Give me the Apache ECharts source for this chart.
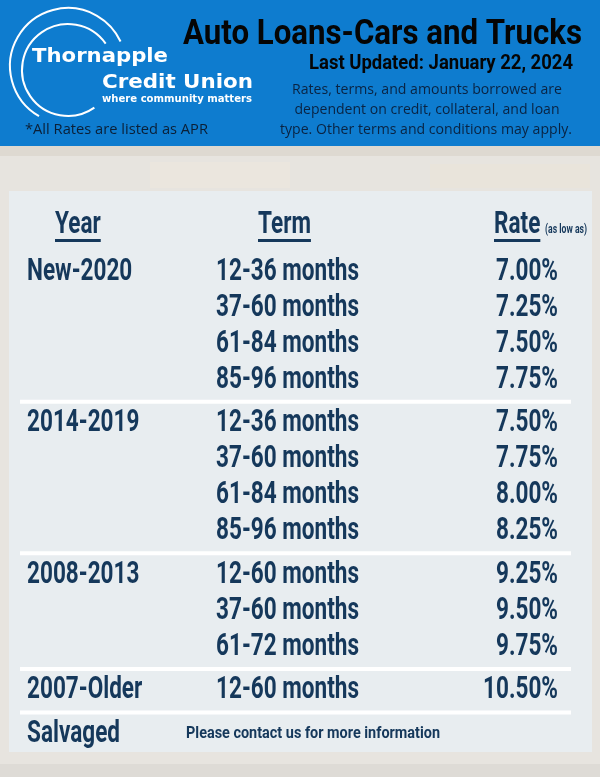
<!DOCTYPE html>
<html><head><meta charset="utf-8">
<script src="https://cdn.jsdelivr.net/npm/echarts@6/dist/echarts.min.js"></script>
<style>html,body{margin:0;padding:0;background:#e5e2dd}#c{width:600px;height:777px}</style>
</head><body><div id="c"></div>
<script>
// ---- data ----
const groupYears = ["New-2020", "2014-2019", "2008-2013", "2007-Older", "Salvaged"];
const groupTerms = [
  ["12-36 months", "37-60 months", "61-84 months", "85-96 months"],
  ["12-36 months", "37-60 months", "61-84 months", "85-96 months"],
  ["12-60 months", "37-60 months", "61-72 months"],
  ["12-60 months"],
  []
];
const groupRates = [
  [7.00, 7.25, 7.50, 7.75],
  [7.50, 7.75, 8.00, 8.25],
  [9.25, 9.50, 9.75],
  [10.50],
  []
];
const salvagedNote = "Please contact us for more information";
const headers = ["Year", "Term", "Rate"];
const rateNote = "(as low as)";
const titleText = "Auto Loans-Cars and Trucks";
const updatedText = "Last Updated: January 22, 2024";
const disclaimer = ["Rates, terms, and amounts borrowed are", "dependent on credit, collateral, and loan", "type. Other terms and conditions may apply."];
const aprNote = "*All Rates are listed as APR";
const logoLines = ["Thornapple", "Credit Union", "where community matters"];

// ---- layout ----
const NAVY = '#15385b';
const GAP = 0.21;
const COL_YEAR = 27, COL_TERM = 216, COL_RATE = 558, COL_NOTE = 186;
const ROW_FONT = 'bold 31px Roboto';

const mctx = document.createElement('canvas').getContext('2d');
function measure(text, font) { mctx.font = font; return mctx.measureText(text).width; }
function fit(text, font, w) { return w / measure(text, font); }
const SX = fit("12-36 months", ROW_FONT, 143);

// build rows
const rows = [];
let gi = 0;
const groupFirst = [], groupLast = [];
groupYears.forEach((yr, g) => {
  const terms = groupTerms[g];
  const n = Math.max(terms.length, 1);
  for (let i = 0; i < n; i++) {
    const u = gi + GAP * g;
    if (i === 0) groupFirst.push(u);
    if (i === n - 1) groupLast.push(u);
    rows.push({
      u: u,
      year: i === 0 ? yr : "",
      term: terms[i] || "",
      rate: groupRates[g][i],
      note: terms.length === 0 ? salvagedNote : ""
    });
    gi++;
  }
});
const seps = [];
for (let g = 0; g < groupYears.length - 1; g++) seps.push((groupLast[g] + groupFirst[g + 1]) / 2);

function txt(x, y, text, font, fill, align, sx) {
  return {
    type: 'text', x: x, y: y, scaleX: sx,
    style: { text: text, font: font, fill: fill, textAlign: align, textVerticalAlign: 'middle', align: align, verticalAlign: 'middle' }
  };
}
function gtxt(x, y, text, font, fill, align, targetW) {
  const sx = targetW ? fit(text, font, targetW) : 1;
  return txt(x, y, text, font, fill, align, sx);
}

const graphics = [
  // background (whitewashed brick)
  { type: 'rect', shape: { x: 0, y: 146, width: 600, height: 631 }, style: { fill: '#e7e4df' }, z: -10 },
  { type: 'rect', shape: { x: 0, y: 146, width: 600, height: 10 }, style: { fill: '#ded9d1' }, z: -9 },
  { type: 'rect', shape: { x: 150, y: 162, width: 140, height: 26 }, style: { fill: '#ebe6de' }, z: -9 },
  { type: 'rect', shape: { x: 430, y: 164, width: 160, height: 24 }, style: { fill: '#e9e4db' }, z: -9 },
  { type: 'rect', shape: { x: 0, y: 764, width: 600, height: 13 }, style: { fill: '#dedbd6' }, z: -9 },
  // header band
  { type: 'rect', shape: { x: 0, y: 0, width: 600, height: 146 }, style: { fill: '#0e7ccf' } },
  // logo arcs
  { type: 'arc', shape: { cx: 68, cy: 66, r: 58, startAngle: 120 * Math.PI / 180, endAngle: 335 * Math.PI / 180, clockwise: true }, style: { stroke: '#fff', lineWidth: 2, fill: null } },
  { type: 'arc', shape: { cx: 68, cy: 70, r: 46, startAngle: 55 * Math.PI / 180, endAngle: 325 * Math.PI / 180, clockwise: true }, style: { stroke: '#fff', lineWidth: 2, fill: null } },
  gtxt(32, 57, logoLines[0], 'bold 20px "DejaVu Sans"', '#fff', 'left', 136),
  gtxt(102, 83, logoLines[1], 'bold 20px "DejaVu Sans"', '#fff', 'left', 151),
  gtxt(102, 99.5, logoLines[2], 'bold 10px "DejaVu Sans"', '#fff', 'left', 150),
  gtxt(25, 130, aprNote, '15px "Open Sans"', '#0b1f36', 'left', 183),
  // title block
  gtxt(183, 35, titleText, 'bold 35px Roboto', '#050505', 'left', 399),
  gtxt(309, 64, updatedText, 'bold 21px Roboto', '#050505', 'left', 264),
  gtxt(427, 90, disclaimer[0], '14.5px "Open Sans"', '#0a2342', 'center', 270),
  gtxt(427, 110, disclaimer[1], '14.5px "Open Sans"', '#0a2342', 'center', 265),
  gtxt(426, 130, disclaimer[2], '14.5px "Open Sans"', '#0a2342', 'center', 292),
  // panel
  { type: 'rect', shape: { x: 9, y: 191, width: 583, height: 561 }, style: { fill: '#e8edf0' }, z: -5 }
];

// headers with underline
const headerLeft = [55, 258, 494];
const HY = 225;
headers.forEach((h, i) => {
  const w = measure(h, ROW_FONT) * SX;
  graphics.push(txt(headerLeft[i], HY, h, ROW_FONT, NAVY, 'left', SX));
  graphics.push({ type: 'rect', shape: { x: headerLeft[i], y: 239, width: w, height: 3 }, style: { fill: NAVY } });
});
graphics.push(txt(545, 230, rateNote, 'bold 12px Roboto', NAVY, 'left', fit(rateNote, 'bold 12px Roboto', 42)));

const chart = echarts.init(document.getElementById('c'), null, { renderer: 'canvas' });
chart.setOption({
  animation: false,
  backgroundColor: 'transparent',
  grid: { left: 0, right: 0, top: 200, height: 540 },
  xAxis: { type: 'value', min: 0, max: 600, show: false },
  yAxis: { type: 'value', min: -2, max: 13, inverse: true, show: false },
  graphic: { elements: graphics },
  series: [
    {
      type: 'custom',
      data: seps.map(u => [u]),
      z: 2,
      renderItem: function (params, api) {
        const p1 = api.coord([20, api.value(0)]);
        const p2 = api.coord([571, api.value(0)]);
        return { type: 'rect', shape: { x: p1[0], y: p1[1] - 2, width: p2[0] - p1[0], height: 4 }, style: { fill: '#ffffff' } };
      }
    },
    {
      type: 'custom',
      data: rows.map((r, i) => [r.u, i]),
      z: 3,
      renderItem: function (params, api) {
        const r = rows[api.value(1)];
        const y = api.coord([0, api.value(0)])[1];
        const ch = [];
        if (r.year) ch.push(txt(api.coord([COL_YEAR, 0])[0], y, r.year, ROW_FONT, NAVY, 'left', SX));
        if (r.term) ch.push(txt(api.coord([COL_TERM, 0])[0], y, r.term, ROW_FONT, NAVY, 'left', SX));
        if (r.rate != null) ch.push(txt(api.coord([COL_RATE, 0])[0], y, r.rate.toFixed(2) + '%', ROW_FONT, NAVY, 'right', SX));
        if (r.note) ch.push(txt(api.coord([COL_NOTE, 0])[0], y, r.note, 'bold 17px Roboto', NAVY, 'left', fit(r.note, 'bold 17px Roboto', 254)));
        return { type: 'group', children: ch };
      }
    }
  ]
});
</script>
</body></html>
